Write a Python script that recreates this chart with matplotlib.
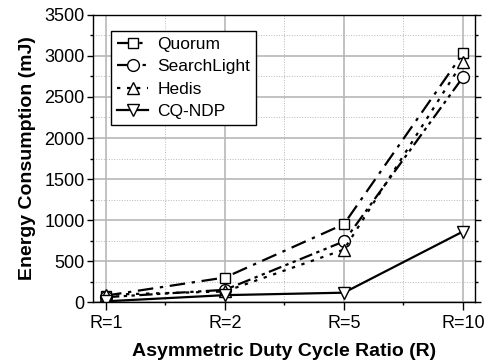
import numpy as np
import matplotlib.pyplot as plt
from matplotlib.ticker import MultipleLocator

plt.rcParams['font.family'] = ['Liberation Sans', 'DejaVu Sans']

categories = ['R=1', 'R=2', 'R=5', 'R=10']
quorum = [80, 300, 950, 3030]
searchlight = [60, 150, 740, 2740]
hedis = [90, 130, 640, 2930]
cqndp = [10, 85, 115, 860]

fig = plt.figure(figsize=(4.89, 3.64), dpi=100)
ax = fig.add_axes([0.19, 0.17, 0.781, 0.789])

x = np.arange(len(categories))
style = dict(markerfacecolor='white', markeredgecolor='black',
             markeredgewidth=1.0, color='black', linewidth=1.6)
ax.plot(x, quorum, marker='s', markersize=7.5, linestyle=(0, (7, 3, 1.5, 3)), label='Quorum', **style)
ax.plot(x, searchlight, marker='o', markersize=8.5, linestyle=(0, (6, 2, 1.5, 2, 1.5, 2)), label='SearchLight', **style)
ax.plot(x, hedis, marker='^', markersize=8.5, linestyle=(0, (1.5, 3)), label='Hedis', **style)
ax.plot(x, cqndp, marker='v', markersize=9, linestyle='-', label='CQ-NDP', **style)

ax.set_xlim(-0.11, 3.1)
ax.set_ylim(0, 3500)
ax.set_xticks(x)
ax.set_xticklabels(categories)
ax.xaxis.set_minor_locator(MultipleLocator(0.5))
ax.yaxis.set_major_locator(MultipleLocator(500))
ax.yaxis.set_minor_locator(MultipleLocator(250))

ax.grid(True, which='major', color='#b8b8b8', linewidth=1.2, linestyle='-')
ax.grid(True, which='minor', color='#b8b8b8', linewidth=0.7, linestyle=':')
ax.set_axisbelow(True)

ax.tick_params(axis='both', which='major', labelsize=13, length=4, width=1, pad=2)
ax.tick_params(axis='x', which='major', length=6, pad=3)
ax.tick_params(axis='both', which='minor', length=2.5, width=1)
ax.tick_params(axis='y', right=True, which='both')
for s in ax.spines.values():
    s.set_linewidth(1.0)

ax.set_xlabel('Asymmetric Duty Cycle Ratio (R)', fontsize=14, fontweight='bold', labelpad=8)
ax.set_ylabel('Energy Consumption (mJ)', fontsize=14, fontweight='bold', labelpad=6)

leg = ax.legend(loc='upper left', bbox_to_anchor=(0.025, 0.975), fontsize=12.5,
                frameon=True, fancybox=False, edgecolor='black', handlelength=1.8,
                handletextpad=0.5, labelspacing=0.42, borderpad=0.35, framealpha=1)
leg.get_frame().set_linewidth(1.0)

fig.savefig('out.png', dpi=100)
